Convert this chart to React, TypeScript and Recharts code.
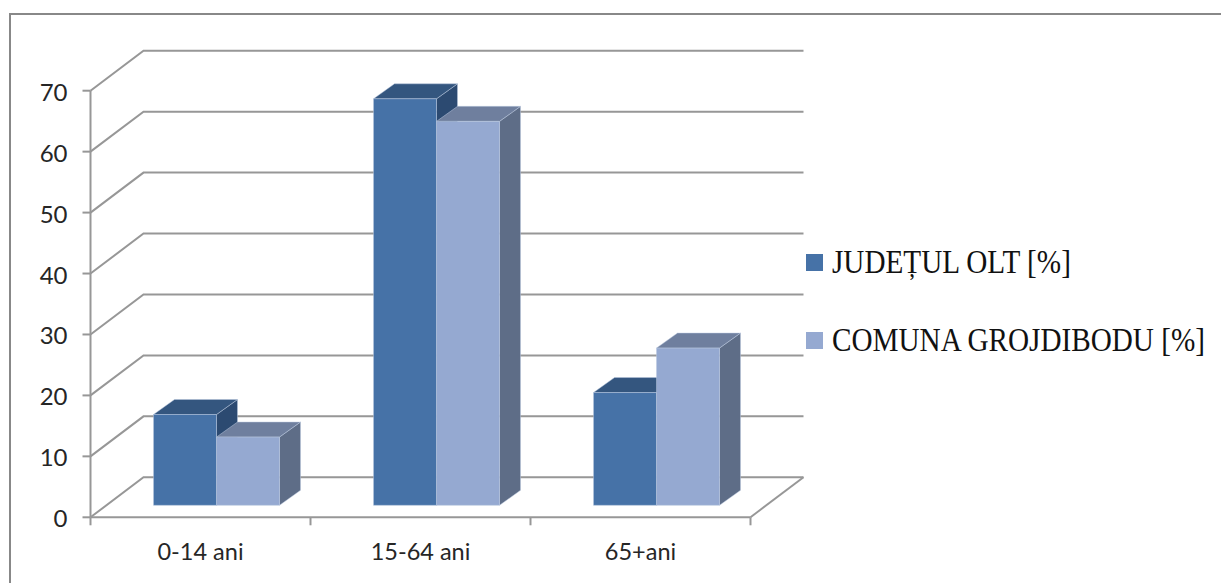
import { BarChart, Bar, XAxis, YAxis, CartesianGrid, Legend } from 'recharts';

const ageGroups = ['0-14 ani', '15-64 ani', '65+ani'];
const judetulOlt = [14.9, 66.7, 18.5];
const comunaGrojdibodu = [11.2, 63, 25.8];
const yTicks = [0, 10, 20, 30, 40, 50, 60, 70];

const rows = ageGroups.map((group, i) => ({
  group,
  olt: judetulOlt[i],
  grojdibodu: comunaGrojdibodu[i],
}));

const WIDTH = 1221;
const HEIGHT = 583;
const PLOT_LEFT = 90.5;
const PLOT_RIGHT = 750.5;
const BAND = (PLOT_RIGHT - PLOT_LEFT) / ageGroups.length;

// oblique offset of the back wall from the front plane
const WALL_DX = 53;
const WALL_DY = -40;
// where the bars stand on the floor, and how deep they are
const BAR_DX = 16;
const BAR_DY = -12;
const DEPTH_DX = 21;
const DEPTH_DY = -15;

const LINE = '#979797';
const LABEL_FONT = 'Lato, sans-serif';
const LEGEND_FONT = '"Liberation Serif", serif';

const shades: Record<string, { top: string; side: string }> = {
  '#4672a7': { top: '#34567f', side: '#2c4a71' },
  '#95a9d1': { top: '#6f7f9e', side: '#5e6d87' },
};

function Box3D({ x, y, width, height, fill }: any) {
  const left = x + BAR_DX;
  const right = left + width;
  const top = y + BAR_DY;
  const bottom = top + height;
  const { top: topFill, side: sideFill } = shades[fill];
  return (
    <g stroke="#b9c9e0" strokeOpacity={0.6} strokeWidth={0.8} strokeLinejoin="round">
      <polygon
        points={`${right},${top} ${right + DEPTH_DX},${top + DEPTH_DY} ${right + DEPTH_DX},${bottom + DEPTH_DY} ${right},${bottom}`}
        fill={sideFill}
      />
      <polygon
        points={`${left},${top} ${left + DEPTH_DX},${top + DEPTH_DY} ${right + DEPTH_DX},${top + DEPTH_DY} ${right},${top}`}
        fill={topFill}
      />
      <rect x={left} y={top} width={width} height={height} fill={fill} />
    </g>
  );
}

// each gridline runs up the side wall and then along the back wall
function WallLine({ x1, x2, y1, index }: any) {
  const isFloor = y1 > 500;
  return (
    <g key={index} fill="none" stroke={LINE} strokeWidth={2}>
      <polyline
        points={`${x1},${y1} ${x1 + WALL_DX},${y1 + WALL_DY} ${x2 + WALL_DX},${y1 + WALL_DY}`}
      />
      {isFloor && <line x1={x2} y1={y1} x2={x2 + WALL_DX} y2={y1 + WALL_DY} />}
    </g>
  );
}

// tick marks sit on the band edges, the label in the middle of the band
function GroupTick({ x, y, payload, index }: any) {
  const edge = x - BAND / 2;
  return (
    <g>
      <line x1={edge} y1={y - 8} x2={edge} y2={y} stroke={LINE} strokeWidth={2} />
      {index === ageGroups.length - 1 && (
        <line x1={edge + BAND} y1={y - 8} x2={edge + BAND} y2={y} stroke={LINE} strokeWidth={2} />
      )}
      <text x={x} y={y + 35} textAnchor="middle" fontFamily={LABEL_FONT} fontSize={23.5} fill="#262626">
        {payload.value}
      </text>
    </g>
  );
}

function ValueTick({ x, y, payload }: any) {
  return (
    <text x={x} y={y + 10} textAnchor="end" fontFamily={LABEL_FONT} fontSize={24} fill="#262626">
      {payload.value}
    </text>
  );
}

function LegendList({ payload }: any) {
  return (
    <div>
      {payload.map((item: any) => (
        <div
          key={item.value}
          style={{ display: 'flex', alignItems: 'center', height: 78, fontFamily: LEGEND_FONT, fontSize: 29.2, color: '#111' }}
        >
          <span style={{ width: 17, height: 17, background: item.color, marginRight: 9 }} />
          {/* the legend face runs taller than it is wide */}
          <span style={{ whiteSpace: 'nowrap', display: 'inline-block', transform: 'scale(1, 1.12)' }}>{item.value}</span>
        </div>
      ))}
    </div>
  );
}

export default function App() {
  return (
    <div style={{ position: 'absolute', left: 0, top: 0, width: WIDTH, height: HEIGHT, overflow: 'hidden', background: '#fff' }}>
      <div
        style={{
          position: 'absolute',
          left: 9,
          top: 13,
          width: WIDTH,
          height: HEIGHT,
          borderTop: '2px solid #888',
          borderLeft: '2px solid #888',
        }}
      />
      <BarChart
        width={WIDTH}
        height={HEIGHT}
        data={rows}
        barCategoryGap={47}
        barGap={0}
        margin={{ top: 90.7, right: WIDTH - PLOT_RIGHT, bottom: 0, left: 0 }}
        style={{ position: 'absolute', left: 0, top: 0 }}
      >
        <CartesianGrid vertical={false} horizontal={WallLine} />
        <XAxis
          dataKey="group"
          height={65.7}
          axisLine={{ stroke: LINE, strokeWidth: 2 }}
          tickLine={false}
          tick={GroupTick}
          interval={0}
        />
        <YAxis
          width={PLOT_LEFT}
          domain={[0, 70]}
          ticks={yTicks}
          interval={0}
          axisLine={{ stroke: LINE, strokeWidth: 2 }}
          tickLine={{ stroke: LINE, strokeWidth: 2 }}
          tickSize={8}
          tickMargin={15}
          tick={ValueTick}
        />
        <Legend
          layout="vertical"
          align="center"
          verticalAlign="middle"
          itemSorter={null}
          wrapperStyle={{ left: 806, top: 223, width: 415 }}
          content={LegendList}
        />
        <Bar dataKey="olt" name="JUDEȚUL OLT [%]" fill="#4672a7" shape={Box3D} isAnimationActive={false} />
        <Bar dataKey="grojdibodu" name="COMUNA GROJDIBODU [%]" fill="#95a9d1" shape={Box3D} isAnimationActive={false} />
      </BarChart>
    </div>
  );
}
